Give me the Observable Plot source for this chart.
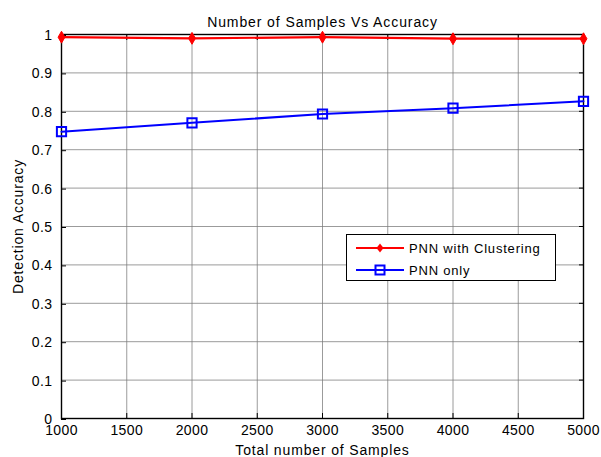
<!DOCTYPE html>
<html>
<head>
<meta charset="utf-8">
<script src="https://cdn.jsdelivr.net/npm/d3@7"></script>
<script src="https://cdn.jsdelivr.net/npm/@observablehq/plot@0.6"></script>
<style>
  body { margin: 0; background: #fff; }
  #wrap { position: relative; width: 601px; height: 457px; font-family: "Liberation Sans", Arial, sans-serif; }
  #legend { position: absolute; left: 346px; top: 234px; width: 208px; height: 45px; border: 1px solid #000; background: #fff; font-size: 13px; letter-spacing: 0.8px; color: #000; }
  .row { position: absolute; left: 0; height: 20px; display: flex; align-items: center; }
  .row svg { margin-left: 9px; margin-right: 5px; }
</style>
</head>
<body>
<div id="wrap"></div>
<script>
const samples = [1000, 2000, 3000, 4000, 5000];
const pnnClustering = [0.993, 0.990, 0.993, 0.989, 0.989];
const pnnOnly = [0.747, 0.770, 0.793, 0.808, 0.826];
const xTicks = [1000, 1500, 2000, 2500, 3000, 3500, 4000, 4500, 5000];
const yTicks = [0, 0.1, 0.2, 0.3, 0.4, 0.5, 0.6, 0.7, 0.8, 0.9, 1];
const seriesNames = ["PNN with Clustering", "PNN only"];
const titleText = "Number of Samples Vs Accuracy";
const xLabel = "Total number of Samples";
const yLabel = "Detection Accuracy";

const red = samples.map((s, i) => ({x: s, y: pnnClustering[i]}));
const blue = samples.map((s, i) => ({x: s, y: pnnOnly[i]}));

const font = "Liberation Sans, Arial, sans-serif";
const chart = Plot.plot({
  width: 601,
  height: 457,
  marginLeft: 61,
  marginRight: 18,
  marginTop: 34,
  marginBottom: 39,
  style: {fontFamily: font, fontSize: "14px", color: "#000", background: "#fff"},
  x: {domain: [1000, 5000]},
  y: {domain: [0, 1]},
  marks: [
    Plot.gridX(xTicks, {stroke: "#7a7a7a", strokeOpacity: 0.75, strokeWidth: 1}),
    Plot.gridY(yTicks, {stroke: "#7a7a7a", strokeOpacity: 0.75, strokeWidth: 1}),
    Plot.axisX(xTicks, {anchor: "bottom", tickSize: -5, tickPadding: 12, tickFormat: d => String(d), fontSize: 14, label: null}),
    Plot.axisX({anchor: "bottom", ticks: [], label: xLabel, labelAnchor: "center", labelArrow: "none", labelOffset: 36, fontSize: 14}),
    Plot.axisX(xTicks, {anchor: "top", tickSize: -5, tickFormat: () => "", label: null}),
    Plot.axisY(yTicks, {anchor: "left", tickSize: -5, tickPadding: 14, dy: 1, tickFormat: d => String(d), fontSize: 14, label: null}),
    Plot.axisY({anchor: "left", ticks: [], label: yLabel, labelAnchor: "center", labelArrow: "none", labelOffset: 48, fontSize: 14}),
    Plot.axisY(yTicks, {anchor: "right", tickSize: -5, tickFormat: () => "", label: null}),
    Plot.frame({stroke: "#000", strokeWidth: 1.4}),
    Plot.line(blue, {x: "x", y: "y", stroke: "#0000ff", strokeWidth: 2}),
    Plot.dot(blue, {x: "x", y: "y", symbol: "square", r: 5.2, stroke: "#0000ff", strokeWidth: 2, fill: "none"}),
    Plot.line(red, {x: "x", y: "y", stroke: "#ff0000", strokeWidth: 2.2}),
    Plot.dot(red, {x: "x", y: "y", symbol: "diamond", r: 3.6, fill: "#ff0000", stroke: "#ff0000", strokeWidth: 1}),
    Plot.text([titleText], {frameAnchor: "top", text: d => d, dy: -17, fontSize: 14})
  ]
});
document.getElementById("wrap").appendChild(chart);
const allText = d3.select(chart).selectAll("text");
allText.filter(function() { return this.textContent === titleText; }).style("letter-spacing", "0.9px");
allText.filter(function() { return this.textContent === xLabel || this.textContent === yLabel; }).style("letter-spacing", "0.85px");
allText.filter(function() { return /^[0-9.]+$/.test(this.textContent); }).style("letter-spacing", "0.4px");

const legend = document.createElement("div");
legend.id = "legend";
const swatches = [
  '<svg width="48" height="12"><line x1="0" y1="6" x2="48" y2="6" stroke="#ff0000" stroke-width="2"/><path d="M24,1.5 L27.5,6 L24,10.5 L20.5,6 Z" fill="#ff0000"/></svg>',
  '<svg width="48" height="12"><line x1="0" y1="6" x2="48" y2="6" stroke="#0000ff" stroke-width="2"/><rect x="19.5" y="1.5" width="9" height="9" fill="none" stroke="#0000ff" stroke-width="2"/></svg>'
];
seriesNames.forEach((n, i) => {
  const r = document.createElement("div");
  r.className = "row";
  r.style.top = (i === 0 ? 3 : 25) + "px";
  r.innerHTML = swatches[i] + "<span>" + n + "</span>";
  legend.appendChild(r);
});
document.getElementById("wrap").appendChild(legend);
</script>
</body>
</html>
